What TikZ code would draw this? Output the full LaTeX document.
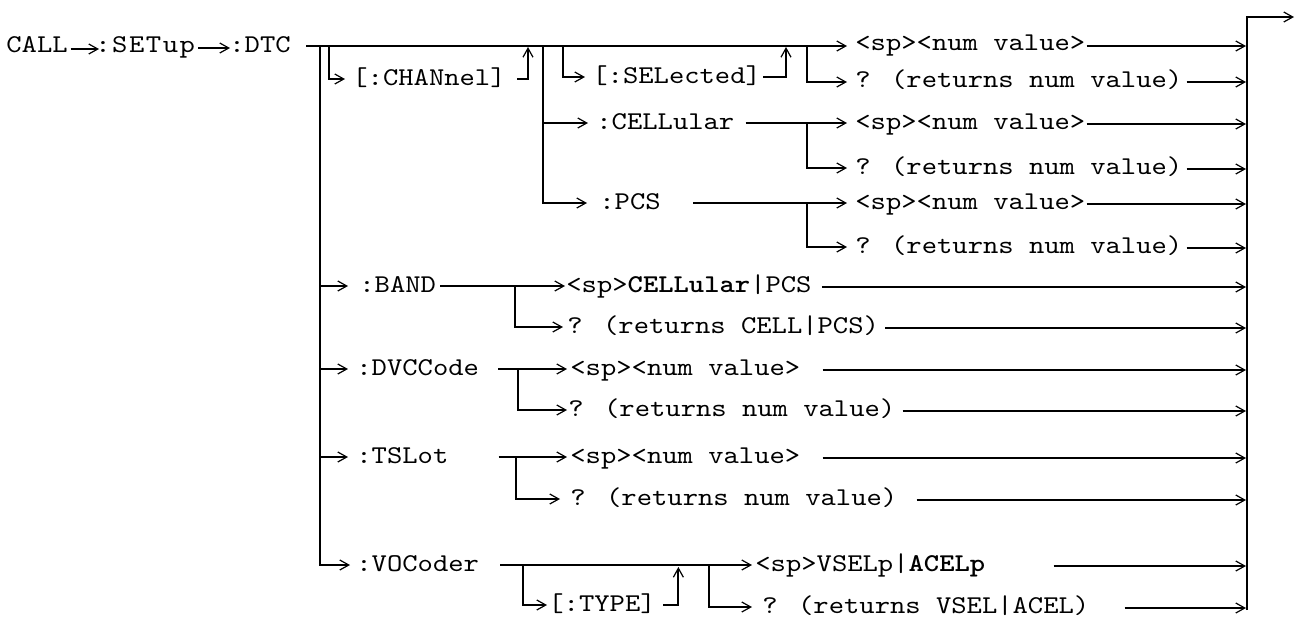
\documentclass[tikz,border=0pt]{standalone}
\usepackage{fontspec}
\newfontfamily\cour[Extension=.otf, UprightFont=lmmono10-regular, BoldFont=lmmonolt10-bold, FakeStretch=1.14]{lmmono10-regular}
\usetikzlibrary{arrows.meta}
\tikzset{
  arr/.style={line width=1pt,-{Straight Barb[length=4.5pt,width=5pt,line width=0.6pt]}},
  lbl/.style={anchor=west,inner sep=0pt,text height=9pt,text depth=3pt,font=\cour\fontsize{12.8pt}{15pt}\selectfont},
}
\begin{document}
\begin{tikzpicture}[x=0.5pt,y=-0.5pt]
\useasboundingbox (0,0) rectangle (1298,617);
% text nodes
\node[lbl] (call)  at (6,46)   {CALL};
\node[lbl] (setup) at (95,46)  {\addfontfeature{LetterSpace=6}:SETup};
\node[lbl] (dtc)   at (229,46) {:DTC};
\node[lbl] (chan)  at (352,79) {[:CHANnel]};
\node[lbl] (sel)   at (592,77) {[:SELected]};
\node[lbl] (cellu) at (596,123) {:CELLular};
\node[lbl] (pcs)   at (599,203) {:PCS};
\node[lbl] (n1) at (855,44)  {<sp><num value>};
\node[lbl] (q1) at (855,81)  {? (returns num value)};
\node[lbl] (n2) at (855,123) {<sp><num value>};
\node[lbl] (q2) at (855,168) {? (returns num value)};
\node[lbl] (n3) at (855,203) {<sp><num value>};
\node[lbl] (q3) at (855,247) {? (returns num value)};
\node[lbl] (band)  at (359,286) {:BAND};
\node[lbl] (bandv) at (566,286) {<sp>\textbf{CELLular}|PCS};
\node[lbl] (bandq) at (567,327) {? (returns CELL|PCS)};
\node[lbl] (dvc)   at (356,369) {:DVCCode};
\node[lbl] (dvcn)  at (570,369) {<sp><num value>};
\node[lbl] (dvcq)  at (568,410) {? (returns num value)};
\node[lbl] (tsl)   at (356,457) {:TSLot};
\node[lbl] (tsln)  at (570,457) {<sp><num value>};
\node[lbl] (tslq)  at (570,499) {? (returns num value)};
\node[lbl] (voc)   at (356,565) {:VOCoder};
\node[lbl] (typ)   at (548,605) {[:TYPE]};
\node[lbl] (vocv)  at (755,565) {<sp>VSELp|\textbf{ACELp}};
\node[lbl] (vocq)  at (762,607) {? (returns VSEL|ACEL)};
% junction coordinates
\coordinate (L)  at (320,46);
\coordinate (C)  at (329,46);
\coordinate (Cr) at (528,47);
\coordinate (V)  at (543,46);
\coordinate (S)  at (563,46);
\coordinate (Sr) at (786,47);
\coordinate (R)  at (807,46);
\coordinate (B0) at (1247,17);
\coordinate (B1) at (1247,610);
\coordinate (Bout) at (1294,17);
% head
\draw[arr] ([xshift=1.3pt,yshift=-1.5pt]call.east) -- ([xshift=2pt,yshift=-1.5pt]setup.west);
\draw[arr] ([xshift=1.5pt,yshift=-1pt]setup.east) -- ([xshift=0.5pt,yshift=-1pt]dtc.west);
\draw[arr] ([xshift=7.5pt]dtc.east) -- ([xshift=-4pt]n1.west |- R);
% left bus
\draw[arr] (L) |- ([xshift=-3pt]voc.west);
\draw[arr] (L |- band.west) -- ([xshift=-5.5pt]band.west);
\draw[arr] (L |- dvc.west) -- ([xshift=-4pt]dvc.west);
\draw[arr] (L |- tsl.west) -- ([xshift=-4pt]tsl.west);
% channel
\draw[arr] (C) |- ([xshift=-3.5pt]chan.west);
\draw[arr] ([xshift=5.5pt]chan.east) -| (Cr);
\draw[arr] (V) |- ([xshift=-6pt]pcs.west);
\draw[arr] (V |- cellu.west) -- ([xshift=-4pt]cellu.west);
\draw[arr] (S) |- ([xshift=-3.5pt]sel.west);
\draw[arr] ([xshift=1pt]sel.east) -| (Sr);
\draw[arr] (R) |- ([xshift=-4pt,yshift=-0.5pt]q1.west);
\draw[arr] ([xshift=5.5pt]cellu.east) -- ([xshift=-4pt]n2.west);
\draw[arr] (R |- n2.west) |- ([xshift=-4pt]q2.west);
\draw[arr] ([xshift=16pt]pcs.east) -- ([xshift=-4pt]n3.west);
\draw[arr] (R |- n3.west) |- ([xshift=-4pt]q3.west);
% band
\draw[arr] ([xshift=2pt]band.east) -- ([xshift=-0.5pt]bandv.west);
\draw[arr] ([xshift=39.5pt]band.east) |- ([xshift=-2pt]bandq.west);
% dvccode
\draw[arr] ([xshift=9.5pt]dvc.east) -- ([xshift=-1.5pt]dvcn.west);
\draw[arr] ([xshift=19.5pt]dvc.east) |- ([xshift=-0.5pt]dvcq.west);
% tslot
\draw[arr] ([xshift=25pt]tsl.east) -- ([xshift=-1.5pt]tsln.west);
\draw[arr] ([xshift=33.5pt]tsl.east) |- ([xshift=-5pt]tslq.west);
% vocoder
\draw[arr] ([xshift=10.5pt]voc.east) -- ([xshift=-1.5pt]vocv.west);
\draw[arr] ([xshift=22pt]voc.east) |- ([xshift=-0.5pt]typ.west);
\draw[arr] ([xshift=3.5pt]typ.east) -| ([xshift=99.5pt,yshift=-1pt]voc.east);
\draw[arr] ([xshift=115pt]voc.east) |- ([xshift=-5pt]vocq.west);
% collecting bar
\draw[arr,line width=1.2pt,line join=miter] (B1) -- (B0) -- (Bout);
\draw[arr,shorten >=0.5pt] ([xshift=0.5pt]n1.east |- R) -- (R -| B0);
\foreach \n/\g in {q1/2pt,n2/0.5pt,q2/2pt,n3/0.5pt,q3/2pt,bandv/5pt,bandq/3pt,dvcn/11pt,dvcq/3.5pt,tsln/11pt,tslq/9.5pt,vocv/34pt,vocq/17.5pt}
  \draw[arr,shorten >=0.5pt] ([xshift=\g,yshift=-0.5pt]\n.east) -- ([yshift=-0.5pt]\n.east -| B0);
\end{tikzpicture}
\end{document}
